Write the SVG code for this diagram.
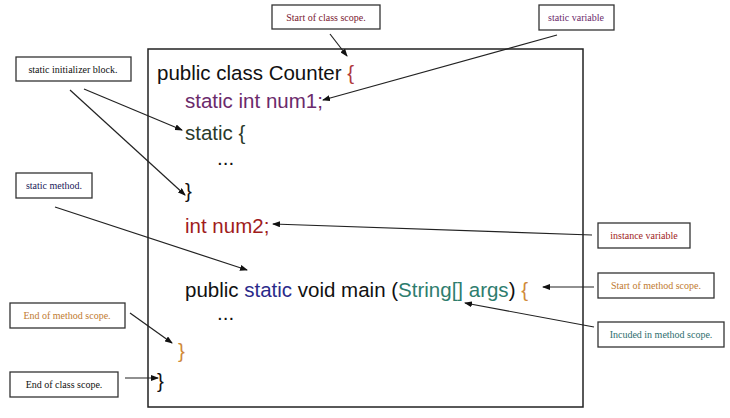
<svg xmlns="http://www.w3.org/2000/svg" width="730" height="418" viewBox="0 0 730 418">
<style>
.lb{fill:#fff;stroke:#333;stroke-width:1.3}
.lt{font-family:"Liberation Serif",serif;font-size:10px}
.code{font-family:"Liberation Sans",Arial,sans-serif;font-size:20.5px}
.ar{stroke:#222;stroke-width:1.2;fill:none;marker-end:url(#ah)}
</style>
<defs><marker id="ah" markerWidth="8" markerHeight="6" refX="7" refY="3" orient="auto" markerUnits="userSpaceOnUse"><path d="M0,0L8,3L0,6z" fill="#111"/></marker></defs>
<rect width="730" height="418" fill="#fff"/>
<g id="code">
<rect x="148" y="49" width="435" height="358" fill="none" stroke="#222" stroke-width="1.5"/>
<text class="code" x="157" y="80" fill="#111">public class Counter <tspan fill="#b03a3a">{</tspan></text>
<text class="code" x="185" y="108" fill="#6b2a6b">static int num1;</text>
<text class="code" x="185" y="140" fill="#2a3a2a">static {</text>
<text class="code" x="217" y="165" fill="#111">...</text>
<text class="code" x="185" y="198" fill="#111">}</text>
<text class="code" x="185" y="233" fill="#a01c1c">int num2;</text>
<text class="code" x="185" y="297" fill="#111">public <tspan fill="#2a2a8a">static</tspan> void main (<tspan fill="#2e7d6e">String[]  args</tspan>) <tspan fill="#d08a3a">{</tspan></text>
<text class="code" x="217" y="320" fill="#111">...</text>
<text class="code" x="178" y="358" fill="#d08a3a">}</text>
<text class="code" x="157" y="388" fill="#111">}</text>
</g>
<g id="n1"><rect class="lb" x="272" y="5" width="108" height="24"/><text class="lt" x="326" y="21" text-anchor="middle" fill="#7a2030">Start of class scope.</text></g>
<g id="n2"><rect class="lb" x="539" y="5" width="75" height="25"/><text class="lt" x="576" y="21" text-anchor="middle" fill="#6b2a6b">static variable</text></g>
<g id="n3"><rect class="lb" x="16" y="57" width="115" height="24"/><text class="lt" x="73" y="73" text-anchor="middle" fill="#111">static initializer block.</text></g>
<g id="n4"><rect class="lb" x="16" y="173" width="76" height="25"/><text class="lt" x="54" y="189" text-anchor="middle" fill="#1a1a5a">static method.</text></g>
<g id="n5"><rect class="lb" x="598" y="223" width="92" height="25"/><text class="lt" x="644" y="239" text-anchor="middle" fill="#a01c1c">instance variable</text></g>
<g id="n6"><rect class="lb" x="598" y="273" width="116" height="25"/><text class="lt" x="656" y="289" text-anchor="middle" fill="#c07a30">Start of method scope.</text></g>
<g id="n7"><rect class="lb" x="598" y="322" width="126" height="25"/><text class="lt" x="661" y="338" text-anchor="middle" fill="#2e6e6e">Incuded in method scope.</text></g>
<g id="n8"><rect class="lb" x="10" y="303" width="115" height="25"/><text class="lt" x="67" y="319" text-anchor="middle" fill="#c07a30">End of method scope.</text></g>
<g id="n9"><rect class="lb" x="10" y="372" width="108" height="25"/><text class="lt" x="64" y="388" text-anchor="middle" fill="#111">End of class scope.</text></g>
<g id="connectors">
<line class="ar" x1="330" y1="34" x2="347" y2="56"/>
<line class="ar" x1="557" y1="35" x2="323" y2="100"/>
<line class="ar" x1="84" y1="89" x2="182" y2="130"/>
<line class="ar" x1="70" y1="90" x2="185" y2="195"/>
<line class="ar" x1="55" y1="207" x2="247" y2="270"/>
<line class="ar" x1="592" y1="235" x2="273" y2="224"/>
<line class="ar" x1="594" y1="287" x2="543" y2="287"/>
<line class="ar" x1="594" y1="327" x2="465" y2="303"/>
<line class="ar" x1="130" y1="313" x2="172" y2="343"/>
<line class="ar" x1="125" y1="378" x2="158" y2="378"/>
</g>
</svg>
